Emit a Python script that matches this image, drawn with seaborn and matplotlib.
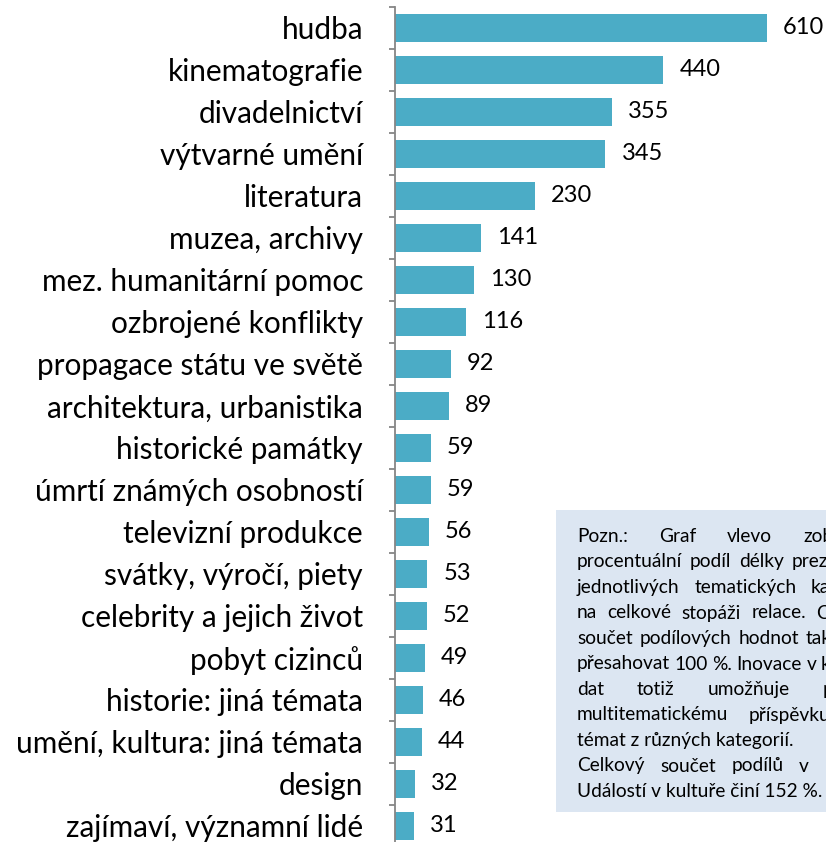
#!/usr/bin/env python3
"""Bar chart of topic shares with a note box"""
import numpy as np
import seaborn as sns
from matplotlib import pyplot as plt
from matplotlib.patches import Rectangle

categories = ["hudba", "kinematografie", "divadelnictví", "výtvarné umění",
              "literatura", "muzea, archivy", "mez. humanitární pomoc",
              "ozbrojené konflikty", "propagace státu ve světě",
              "architektura, urbanistika", "historické památky",
              "úmrtí známých osobností", "televizní produkce",
              "svátky, výročí, piety", "celebrity a jejich život",
              "pobyt cizinců", "historie: jiná témata",
              "umění, kultura: jiná témata", "design",
              "zajímaví, významní lidé"]
values = [610, 440, 355, 345, 230, 141, 130, 116, 92, 89,
          59, 59, 56, 53, 52, 49, 46, 44, 32, 31]

note_lines = ["Pozn.: Graf vlevo zobrazuje",
              "procentuální podíl délky prezentace",
              "jednotlivých tematických kategorií",
              "na celkové stopáži relace. Celkový",
              "součet podílových hodnot tak může",
              "přesahovat 100 %. Inovace v kódování",
              "dat totiž umožňuje přiřadit",
              "multitematickému příspěvku více",
              "témat z různých kategorií.",
              "Celkový součet podílů v rubrice",
              "Událostí v kultuře činí 152 %."]
note_justified = [True] * 8 + [False, True, False]

BAR = "#4BACC6"
GREY = "#868686"
W, H = 826, 842

sns.set_style("white")
plt.rcParams['font.family'] = ['Lato', 'DejaVu Sans']

fig = plt.figure(figsize=(W / 100, H / 100), dpi=100)
ax = fig.add_axes([395 / W, 1 - 847 / H, 431 / W, 840 / H])
ax.patch.set_alpha(0)

sns.barplot(x=values, y=categories, orient="h", color=BAR, saturation=1,
            width=0.66, linewidth=0, ax=ax)

ax.set_xlim(0, 431 / 0.61)
ax.set_ylim(19.5, -0.5)
ax.set_xticks([])
ax.set_xlabel("")
ax.set_ylabel("")
for side in ["top", "right", "bottom"]:
    ax.spines[side].set_visible(False)
ax.spines["left"].set_color(GREY)
ax.spines["left"].set_linewidth(1.3)
ax.set_yticks(np.arange(-0.5, 20, 1), minor=True)
ax.tick_params(axis="y", which="minor", left=True, length=4, width=1.3,
               color=GREY)
ax.tick_params(axis="y", which="major", left=False, length=0, pad=23,
               labelsize=20, labelcolor="black")

vals = ax.bar_label(ax.containers[0], labels=[str(v) for v in values],
                    padding=11.5, fontsize=17, color="black")

renderer = fig.canvas.get_renderer()


def fit(text, target_px):
    """Scale font size so the text gets the wanted width"""
    w = text.get_window_extent(renderer).width
    text.set_fontsize(text.get_fontsize() * target_px / w)
    return text.get_fontsize()


# size category labels after the reference
lab = [t for t in ax.get_yticklabels() if t.get_text() == "mez. humanitární pomoc"][0]
size = fit(lab, 322)
ax.tick_params(axis="y", which="major", labelsize=size)

# note box
fig.add_artist(Rectangle((556 / W, 1 - 812 / H), 400 / W, 302 / H,
                         transform=fig.transFigure, facecolor="#DCE6F2",
                         edgecolor="none", zorder=1))

left, right = 577, 884
last = fig.text(left / W, 1 - 797 / H, note_lines[-1], va="baseline",
                ha="left", fontsize=14, color="black", zorder=3)
nsize = fit(last, 246)
space = nsize * 100 / 72 * 0.23

for i, (line, just) in enumerate(zip(note_lines[:-1], note_justified[:-1])):
    y = 1 - (542 + i * 25.5) / H
    if not just:
        fig.text(left / W, y, line, va="baseline", ha="left",
                 fontsize=nsize, color="black", zorder=3)
        continue
    words = [fig.text(0, y, w, va="baseline", ha="left", fontsize=nsize,
                      color="black", zorder=3) for w in line.split()]
    widths = [t.get_window_extent(renderer).width for t in words]
    gap = max(space, (right - left - sum(widths)) / (len(words) - 1))
    x = left
    for t, w in zip(words, widths):
        t.set_x(x / W)
        x += w + gap

fig.savefig("out.png", dpi=100)
